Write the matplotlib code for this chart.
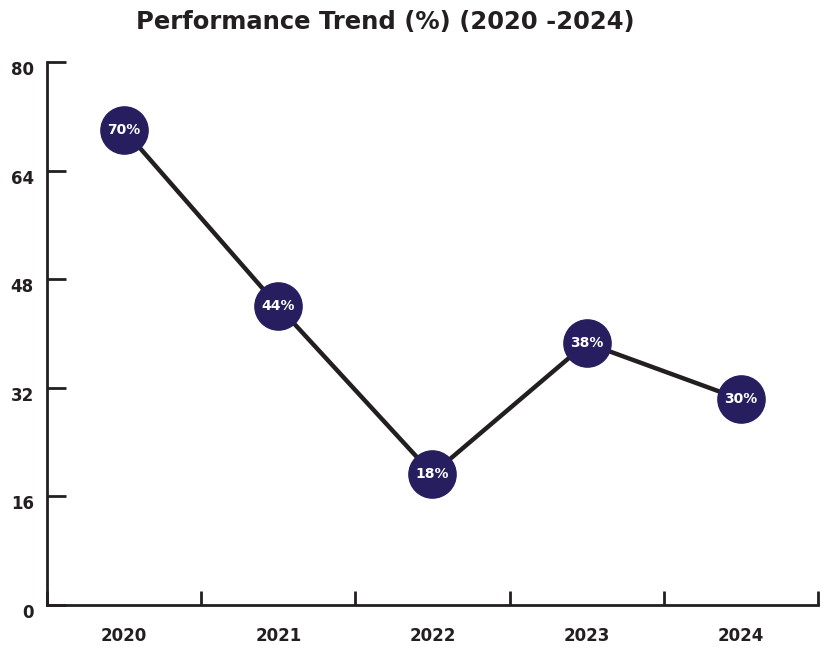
import numpy as np
import matplotlib
matplotlib.use('Agg')
import matplotlib.pyplot as plt
import matplotlib.transforms as mtransforms

years = ['2020', '2021', '2022', '2023', '2024']
# positions as drawn in the picture, labels as printed on the markers
performance = [70, 44, 19.3, 38.6, 30.3]
point_labels = ['70%', '44%', '18%', '38%', '30%']
yticks = [0, 16, 32, 48, 64, 80]

plt.rcParams['font.family'] = ['DejaVu Sans']

ink = '#231f20'
navy = '#261e5f'

fig = plt.figure(figsize=(8.32, 6.48), dpi=100)
ax = fig.add_axes([0.0565, 0.0664, 0.9265, 0.8379])

x = np.arange(len(years))
ax.plot(x, performance, color=ink, linewidth=3.2, zorder=2,
        marker='o', markersize=34, markerfacecolor=navy, markeredgecolor=navy)

for xi, v, lab in zip(x, performance, point_labels):
    ax.text(xi, v, lab, color='white', fontsize=10, fontweight='bold',
            ha='center', va='center', zorder=3)

ax.set_xlim(-0.5, len(years) - 0.5)
ax.set_ylim(0, 80)

# ticks sit on the category boundaries, labels in the middle
ax.set_xticks(np.arange(-0.5, len(years)), minor=False)
ax.set_xticklabels([])
ax.set_xticks(x, minor=True)
ax.set_xticklabels(years, minor=True, fontsize=12, fontweight='bold', color=ink)
ax.tick_params(axis='x', which='major', direction='in', length=10, width=2, color=ink)
ax.tick_params(axis='x', which='minor', length=0, pad=16)

ax.set_yticks(yticks)
ax.set_yticklabels([str(t) for t in yticks], fontsize=12, fontweight='bold', color=ink)
ax.tick_params(axis='y', direction='in', length=14, width=2, color=ink, pad=9.5)
offset = mtransforms.ScaledTranslation(0, -6 / 100, fig.dpi_scale_trans)
for lab in ax.get_yticklabels():
    lab.set_transform(lab.get_transform() + offset)

for side in ['top', 'right']:
    ax.spines[side].set_visible(False)
for side in ['left', 'bottom']:
    ax.spines[side].set_color(ink)
    ax.spines[side].set_linewidth(2)

fig.text(0.4627, 0.966, 'Performance Trend (%) (2020 -2024)', ha='center', va='center',
         fontsize=17.5, fontweight='bold', color=ink)

plt.savefig('out.png', dpi=100)
plt.close()
